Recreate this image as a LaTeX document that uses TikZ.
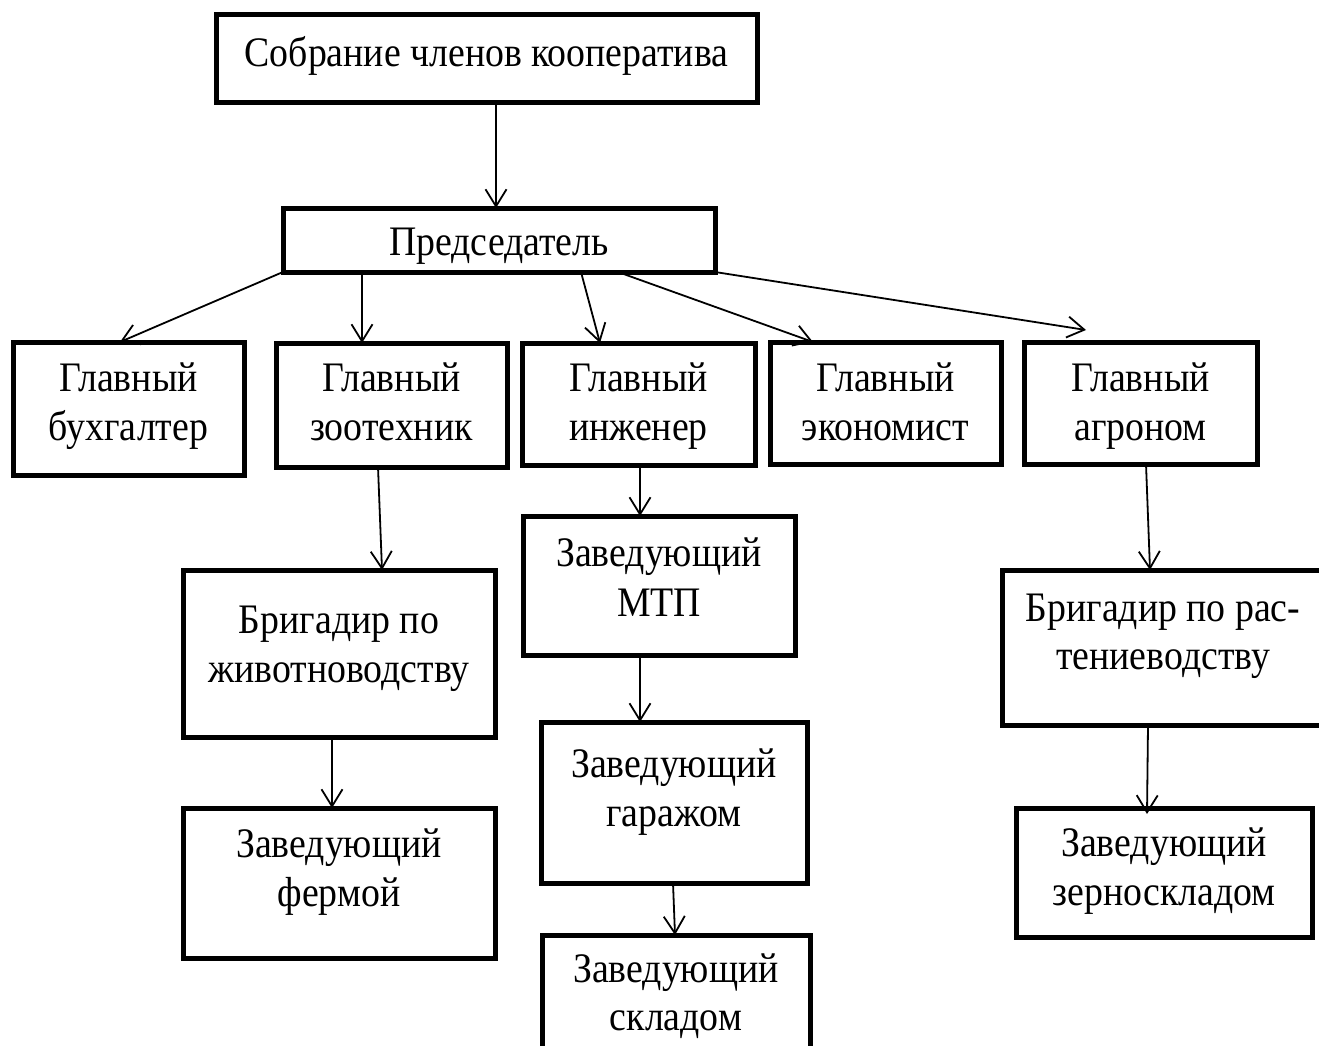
\documentclass[tikz,border=0pt]{standalone}
\usepackage{fontspec}
\setmainfont{Liberation Serif}[FakeStretch=0.9]
\usetikzlibrary{arrows.meta,calc}
\begin{document}
\begin{tikzpicture}[x=1pt,y=-1pt,
  box/.style={draw, line width=5pt, rectangle, inner sep=0pt, outer sep=0pt, anchor=north west},
  txt/.style={anchor=base, inner sep=0pt, font=\fontsize{42}{50}\selectfont},
  arr/.style={line width=1.8pt, -{Straight Barb[length=17pt,width=21pt,line width=1.8pt]}}]
\useasboundingbox (0,0) rectangle (1319,1046);
\clip (0,0) rectangle (1319,1046);
% boxes
\node[box, minimum width=541pt, minimum height=88pt]  (sob)  at (216,15)  {};
\node[box, minimum width=432pt, minimum height=64pt]  (pred) at (283,208) {};
\node[box, minimum width=231pt, minimum height=133pt] (buh)  at (13,342)  {};
\node[box, minimum width=231pt, minimum height=124pt] (zoo)  at (276,343) {};
\node[box, minimum width=233pt, minimum height=122pt] (inj)  at (522,343) {};
\node[box, minimum width=231pt, minimum height=122pt] (eko)  at (770,342) {};
\node[box, minimum width=233pt, minimum height=122pt] (agr)  at (1024,342) {};
\node[box, minimum width=312pt, minimum height=167pt] (brz)  at (183,570) {};
\node[box, minimum width=312pt, minimum height=150pt] (ferm) at (183,808) {};
\node[box, minimum width=272pt, minimum height=139pt] (mtp)  at (523,516) {};
\node[box, minimum width=266pt, minimum height=161pt] (gar)  at (541,722) {};
\node[box, minimum width=268pt, minimum height=160pt] (skl)  at (542,935) {};
\node[box, minimum width=360pt, minimum height=155pt] (brr)  at (1002,570) {};
\node[box, minimum width=296pt, minimum height=129pt] (zer)  at (1016,808) {};
% texts
\node[txt] (tsob)  at (486.5,67) {Собрание членов кооператива};
\node[txt] (tpred) at (499,255) {Председатель};
\node[txt] (tbuh1) at (128.5,391) {Главный};
\node[txt] (tbuh2) at (128.5,440) {бухгалтер};
\node[txt] (tzoo1) at (391.5,391) {Главный};
\node[txt] (tzoo2) at (391.5,440) {зоотехник};
\node[txt] (tinj1) at (638.5,391) {Главный};
\node[txt] (tinj2) at (638.5,440) {инженер};
\node[txt] (teko1) at (885.5,391) {Главный};
\node[txt] (teko2) at (885.5,440) {экономист};
\node[txt] (tagr1) at (1140.5,391) {Главный};
\node[txt] (tagr2) at (1140.5,440) {агроном};
\node[txt] (tbrz1) at (339,633) {Бригадир по};
\node[txt] (tbrz2) at (339,682) {животноводству};
\node[txt] (tfer1) at (339,857) {Заведующий};
\node[txt] (tfer2) at (339,906) {фермой};
\node[txt] (tmtp1) at (659,566) {Заведующий};
\node[txt] (tmtp2) at (659,616) {МТП};
\node[txt] (tgar1) at (674,777) {Заведующий};
\node[txt] (tgar2) at (674,826) {гаражом};
\node[txt] (tskl1) at (676,982) {Заведующий};
\node[txt] (tskl2) at (676,1030) {складом};
\node[txt] (tbrr1) at (1163,621) {Бригадир по рас-};
\node[txt] (tbrr2) at (1163,669) {тениеводству};
\node[txt] (tzer1) at (1164,856) {Заведующий};
\node[txt] (tzer2) at (1164,905) {зерноскладом};
% connectors
\draw[arr] ($(sob.south west)+(280,0)$) -- ($(pred.north west)+(213,0)$);
\draw[arr] (pred.south west) -- ($(buh.north west)+(107,0)$);
\draw[arr] ($(pred.south west)+(79,0)$) -- ($(zoo.north west)+(86,0)$);
\draw[arr] ($(pred.south west)+(298,0)$) -- ($(inj.north west)+(78,0)$);
\draw[arr] ($(pred.south west)+(335,0)$) -- ($(eko.north west)+(43,0)$);
\draw[arr] (pred.south east) -- ($(agr.north west)+(62,-12)$);
\draw[arr] ($(zoo.south west)+(102,0)$) -- ($(brz.north west)+(199,0)$);
\draw[arr] ($(brz.south west)+(149,0)$) -- ($(ferm.north west)+(149,0)$);
\draw[arr] ($(inj.south west)+(118,0)$) -- ($(mtp.north west)+(117,0)$);
\draw[arr] ($(mtp.south west)+(117,0)$) -- ($(gar.north west)+(99,0)$);
\draw[arr] ($(gar.south west)+(132,0)$) -- ($(skl.north west)+(133,0)$);
\draw[arr] ($(agr.south west)+(122,0)$) -- ($(brr.north west)+(148,0)$);
\draw[arr] ($(brr.south west)+(146,0)$) -- ($(zer.north west)+(131,6)$);
\end{tikzpicture}
\end{document}
